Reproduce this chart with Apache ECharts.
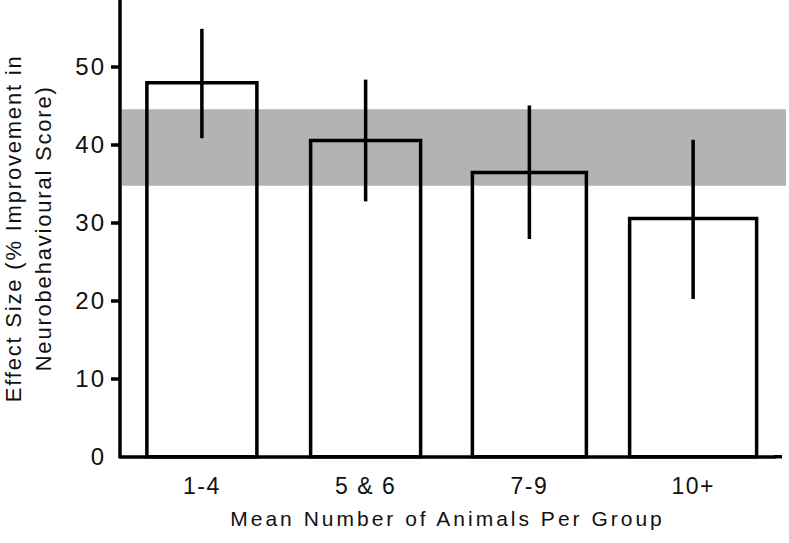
<!DOCTYPE html>
<html><head><meta charset="utf-8">
<script src="https://cdn.jsdelivr.net/npm/echarts@6/dist/echarts.min.js"></script>
<style>html,body{margin:0;padding:0;background:#fff;}#chart{width:789px;height:543px;}</style>
</head><body><div id="chart"></div>
<script>
// ---- data ----
const categories = ['1-4', '5 & 6', '7-9', '10+'];
const meanEffect = [47.9, 40.5, 36.4, 30.5];
const ciLow = [40.8, 32.7, 27.9, 20.2];
const ciHigh = [54.8, 48.3, 45.0, 40.6];
const overallBand = [34.7, 44.5];
const yTickLabels = [0, 10, 20, 30, 40, 50];
const yTickMarks = [10, 20, 30, 40, 50];
const xTitle = 'Mean Number of Animals Per Group';
const yTitle = 'Effect Size (% Improvement in\nNeurobehavioural Score)';

// ---- styling ----
const barWidths = [110, 110, 114, 127];
const FONT = "'Liberation Sans', Arial, sans-serif";
const INK = '#111';
const LW = 3.5;

const chart = echarts.init(document.getElementById('chart'), null, {renderer: 'svg'});
chart.setOption({
  animation: false,
  backgroundColor: '#fff',
  grid: {left: 120, right: 14, top: 0, bottom: 86.3, containLabel: false, outerBoundsMode: 'none'},
  xAxis: {
    type: 'category', data: categories,
    axisLine: {lineStyle: {color: '#000', width: LW}},
    axisTick: {alignWithLabel: true, length: 8, lineStyle: {color: '#000', width: LW}},
    axisLabel: {interval: 0, margin: 18, fontSize: 23, fontFamily: FONT, color: INK},
    name: xTitle, nameLocation: 'middle', nameGap: 51.5,
    nameTextStyle: {fontSize: 21, fontFamily: FONT, color: INK}
  },
  yAxis: {
    type: 'value', min: 0, max: 58.5, interval: 10,
    splitLine: {show: false},
    axisLine: {show: true, lineStyle: {color: '#000', width: LW}},
    axisTick: {show: true, length: 9, customValues: yTickMarks, lineStyle: {color: '#000', width: LW}},
    axisLabel: {margin: 14, fontSize: 24, fontFamily: FONT, color: INK, customValues: yTickLabels},
    name: yTitle, nameLocation: 'middle', nameGap: 62,
    nameTextStyle: {fontSize: 22, lineHeight: 30, fontFamily: FONT, color: INK}
  },
  series: [
    {
      type: 'custom', silent: true, z: 1,
      data: [[0, overallBand[0], overallBand[1]]],
      encode: {x: 0, y: [1, 2]},
      renderItem: function (params, api) {
        const cs = params.coordSys;
        const yLo = api.coord([0, api.value(1)])[1];
        const yHi = api.coord([0, api.value(2)])[1];
        return {type: 'rect', shape: {x: cs.x + 2, y: yHi, width: cs.width + 9, height: yLo - yHi},
          style: {fill: '#b3b3b3'}};
      }
    },
    {
      type: 'custom', silent: true, z: 3,
      data: categories.map((c, i) => [i, meanEffect[i], ciLow[i], ciHigh[i]]),
      encode: {x: 0, y: [1, 2, 3]},
      renderItem: function (params, api) {
        const i = api.value(0);
        const base = api.coord([i, 0]);
        const top = api.coord([i, api.value(1)]);
        const lo = api.coord([i, api.value(2)]);
        const hi = api.coord([i, api.value(3)]);
        const w = barWidths[params.dataIndex];
        return {type: 'group', children: [
          {type: 'rect', shape: {x: base[0] - w / 2, y: top[1], width: w, height: base[1] - top[1]},
            style: {fill: 'none', stroke: '#000', lineWidth: LW}},
          {type: 'line', shape: {x1: lo[0], y1: lo[1], x2: hi[0], y2: hi[1]},
            style: {stroke: '#000', lineWidth: LW}}
        ]};
      }
    }
  ]
});

// extend the x axis line slightly past the last category, as in the reference
const y0 = chart.convertToPixel({yAxisIndex: 0}, 0);
chart.setOption({graphic: [{type: 'line', silent: true, z: 10,
  shape: {x1: 774, y1: y0, x2: 782, y2: y0}, style: {stroke: '#000', lineWidth: LW}}]});

// widen text like the reference's wide lettering
function spaceText() {
  document.querySelectorAll('#chart svg text').forEach(function (t) {
    const s = t.textContent;
    let ls = 0;
    if (categories.indexOf(s) >= 0) ls = 1.5;
    else if (/^\d+$/.test(s)) ls = 2;
    else if (s === xTitle) ls = 3;
    else if (s.indexOf('Effect') === 0 || s.indexOf('Neuro') === 0) ls = 1.8;
    if (ls) t.setAttribute('letter-spacing', ls + 'px');
  });
}
chart.on('finished', spaceText);
spaceText();
</script></body></html>
